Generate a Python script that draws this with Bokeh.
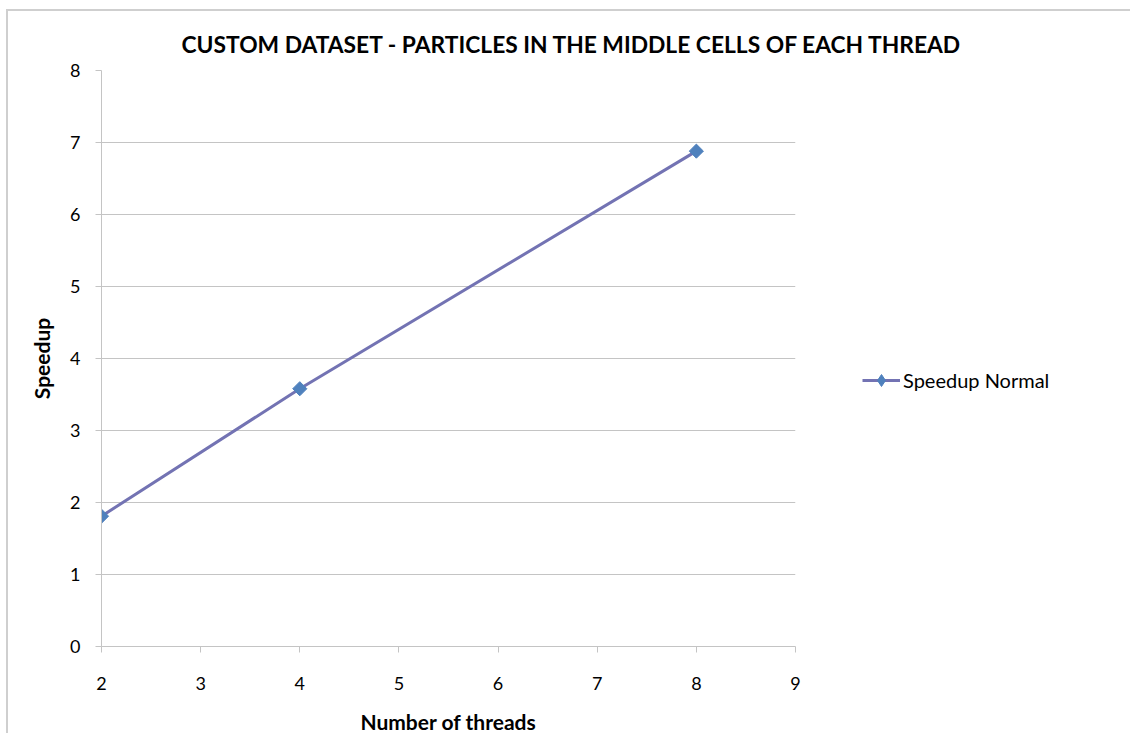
import math
from bokeh.plotting import figure
from bokeh.models import Legend, LegendItem, FixedTicker
from bokeh.embed import file_html
from bokeh.resources import INLINE

# Speedup measured for each thread count
threads = [2, 4, 8]
speedup = [1.81, 3.58, 6.88]
series_name = "Speedup Normal"

x_ticks = [2, 3, 4, 5, 6, 7, 8, 9]
y_ticks = [0, 1, 2, 3, 4, 5, 6, 7, 8]

FONT = "Lato"
GRID = "#c4c4c4"
LINE = "#7373b3"
MARK = "#4f81bd"

p = figure(
    width=1124, height=724,
    x_range=(2, 9), y_range=(0, 8),
    output_backend="svg", toolbar_location=None,
    min_border_left=93, min_border_top=59, min_border_right=337, min_border_bottom=89,
)
p.frame_width = 694
p.frame_height = 576
p.margin = (9, 0, 0, 6)
p.styles = {"border-left": "2px solid #cfcfcf", "border-top": "2px solid #cfcfcf"}
p.outline_line_color = None
p.background_fill_color = "white"
p.border_fill_color = "white"

p.title.text = "CUSTOM DATASET - PARTICLES IN THE MIDDLE CELLS OF EACH THREAD"
p.title.text_font = FONT
p.title.text_font_size = "22.8px"
p.title.text_font_style = "bold"
p.title.text_color = "black"
p.title.align = "left"
p.title.offset = 80
p.title.standoff = 26

for ax in (p.xaxis[0], p.yaxis[0]):
    ax.axis_line_color = GRID
    ax.major_tick_line_color = GRID
    ax.major_tick_out = 6
    ax.major_tick_in = 0
    ax.minor_tick_line_color = None
    ax.major_label_text_font = FONT
    ax.major_label_text_font_size = "18px"
    ax.major_label_text_color = "black"
    ax.axis_label_text_font = FONT
    ax.axis_label_text_font_size = "21px"
    ax.axis_label_text_font_style = "bold"
    ax.axis_label_text_color = "black"

p.xaxis.ticker = FixedTicker(ticks=x_ticks)
p.yaxis.ticker = FixedTicker(ticks=y_ticks)
p.xaxis.axis_label = "Number of threads"
p.yaxis.axis_label = "Speedup"
p.xaxis.major_label_standoff = 24
p.yaxis.major_label_standoff = 15
p.xaxis.axis_label_standoff = 16
p.yaxis.axis_label_standoff = 13

p.xgrid.grid_line_color = None
p.ygrid.grid_line_color = GRID
p.ygrid.grid_line_width = 1

line = p.line(threads, speedup, line_color=LINE, line_width=3)
pts = p.scatter(threads, speedup, marker="square", size=10, angle=math.pi / 4,
                fill_color=MARK, line_color=MARK)
# legend swatch: the legend never rotates markers, so use a diamond there
swatch = p.scatter(threads, speedup, marker="diamond", fill_color=MARK,
                   line_color=MARK, visible=False)

legend = Legend(
    items=[LegendItem(label=series_name, renderers=[line, swatch])],
    location=(67, 251),
    border_line_color=None,
    background_fill_alpha=0,
    label_text_font=FONT,
    label_text_font_size="20px",
    label_text_color="black",
    glyph_width=38,
    glyph_height=30,
    label_standoff=3,
    margin=0,
    padding=0,
)
p.add_layout(legend, "right")

open("out.html", "w").write(file_html(p, INLINE))
